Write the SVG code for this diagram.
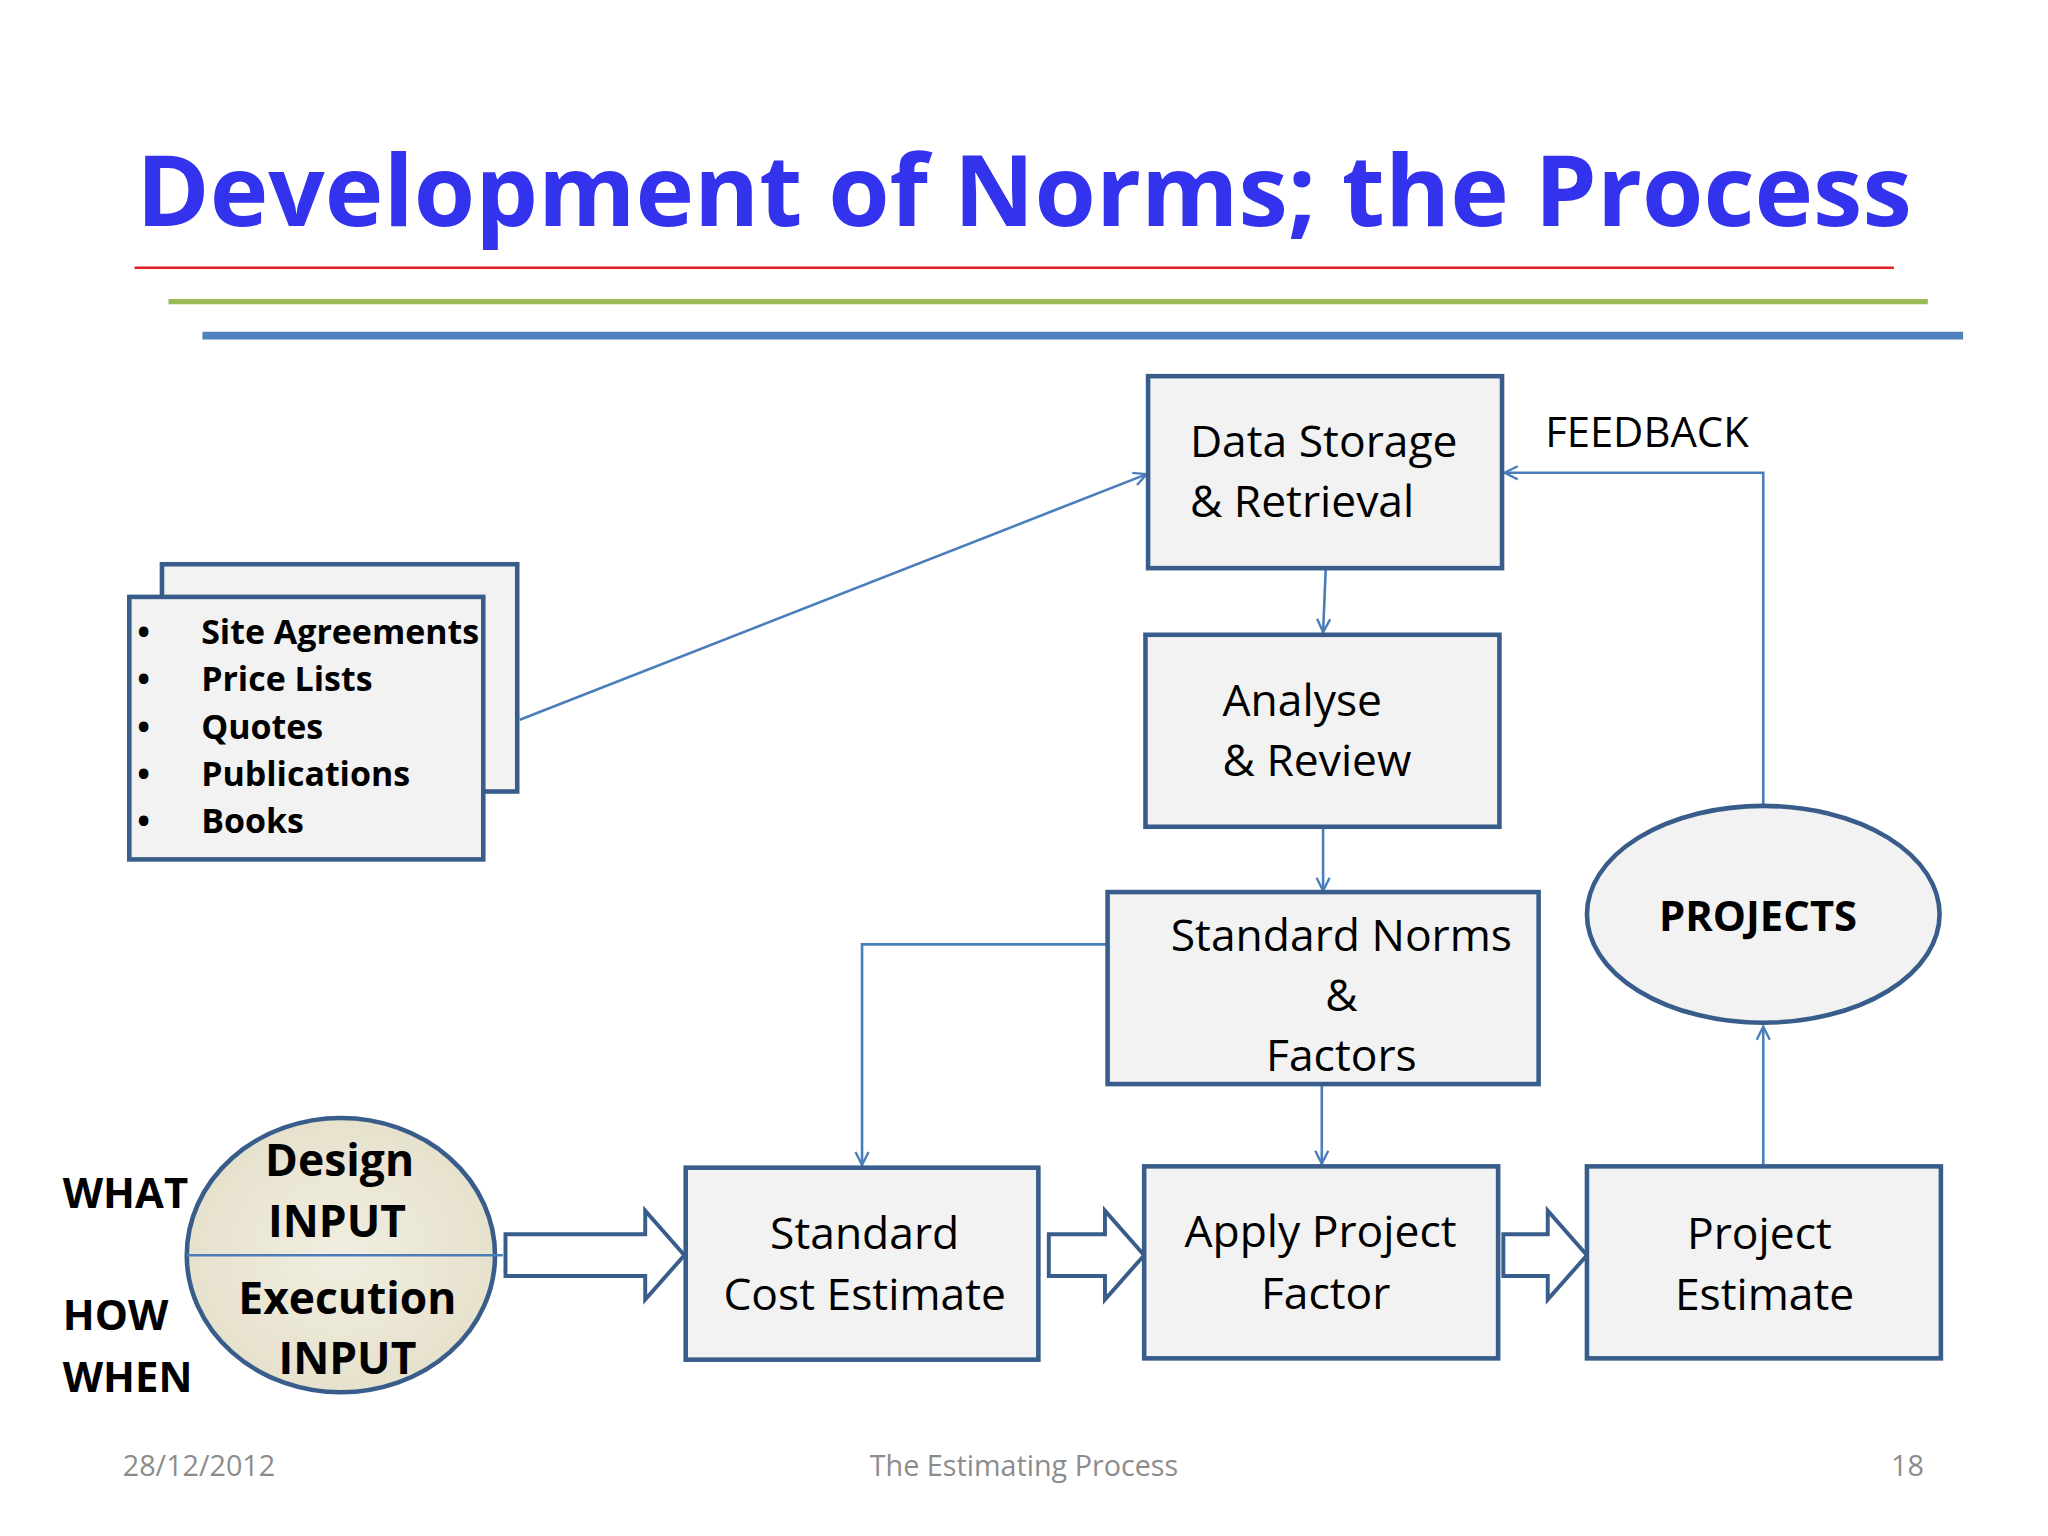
<svg xmlns="http://www.w3.org/2000/svg" width="2048" height="1536" viewBox="0 0 2048 1536">
<style>
.box{fill:#F2F2F2;stroke:#385D8A;stroke-width:3.5}
.t{font-family:"Open Sans","Liberation Sans",sans-serif;fill:#000}
.b{font-family:"Open Sans","Liberation Sans",sans-serif;font-weight:bold;fill:#000}
.c{fill:none;stroke:#4A7EBB;stroke-width:2}
.blk{fill:#fff;stroke:#385D8A;stroke-width:3}
.f{font-family:"Open Sans","Liberation Sans",sans-serif;fill:#8C8C8C;font-size:22px}
</style>
<defs>
<marker id="ar" viewBox="0 0 12 12" refX="11" refY="6" markerWidth="12" markerHeight="12" markerUnits="userSpaceOnUse" orient="auto"><path d="M1,1 L11,6 L1,11" fill="none" stroke="#4A7EBB" stroke-width="1.8"/></marker>
<radialGradient id="g" cx="0.5" cy="0.5" r="0.6"><stop offset="0" stop-color="#F2EEE0"/><stop offset="1" stop-color="#E4DFC9"/></radialGradient>
</defs>
<rect width="2048" height="1536" fill="#fff"/>
<g transform="scale(1.30612)">
<g id="title">
<text x="784" y="173" text-anchor="middle" font-family="'Open Sans','Liberation Sans',sans-serif" font-weight="bold" font-size="76" fill="#3333EE">Development of Norms; the Process</text>
<line x1="103" y1="205" x2="1450" y2="205" stroke="#E02020" stroke-width="2"/>
<line x1="129" y1="231" x2="1476" y2="231" stroke="#9BBB59" stroke-width="4"/>
<line x1="155" y1="257" x2="1503" y2="257" stroke="#4F81BD" stroke-width="6"/>
</g>
<g id="connectors">
<line class="c" x1="398" y1="551" x2="878" y2="363" marker-end="url(#ar)"/>
<line class="c" x1="1015" y1="436" x2="1013" y2="484" marker-end="url(#ar)"/>
<line class="c" x1="1013" y1="634" x2="1013" y2="682" marker-end="url(#ar)"/>
<polyline class="c" points="848,723 660,723 660,892" marker-end="url(#ar)"/>
<line class="c" x1="1012" y1="831" x2="1012" y2="891" marker-end="url(#ar)"/>
<line class="c" x1="1350" y1="892" x2="1350" y2="786" marker-end="url(#ar)"/>
<polyline class="c" points="1350,617 1350,362 1152,362" marker-end="url(#ar)"/>
<path class="blk" d="M387,945 H494 V927 L524,961 L494,995 V977 H387 Z"/>
<path class="blk" d="M803,945 H846 V927 L876,961 L846,995 V977 H803 Z"/>
<path class="blk" d="M1151,945 H1185 V927 L1215,961 L1185,995 V977 H1151 Z"/>
</g>
<g id="data-storage"><rect class="box" x="879" y="288" width="271" height="147"/>
<text class="t" font-size="34" x="911" y="350">Data Storage</text><text class="t" font-size="34" x="911" y="396">&amp; Retrieval</text></g>
<text class="t" font-size="32" x="1183" y="342">FEEDBACK</text>
<g id="analyse"><rect class="box" x="877" y="486" width="271" height="147"/>
<text class="t" font-size="34" x="936" y="548">Analyse</text><text class="t" font-size="34" x="936" y="594">&amp; Review</text></g>
<g id="norms"><rect class="box" x="848" y="683" width="330" height="147"/>
<text class="t" font-size="34" x="1027" y="728" text-anchor="middle">Standard Norms</text>
<text class="t" font-size="34" x="1027" y="774" text-anchor="middle">&amp;</text>
<text class="t" font-size="34" x="1027" y="820" text-anchor="middle">Factors</text></g>
<g id="projects"><ellipse cx="1350" cy="700" rx="135" ry="83" fill="#F2F2F2" stroke="#385D8A" stroke-width="3.5"/>
<text class="b" font-size="32" x="1346" y="713" text-anchor="middle">PROJECTS</text></g>
<g id="sources">
<rect class="box" x="124" y="432" width="272" height="174"/>
<rect class="box" x="99" y="457" width="271" height="201"/>
<g class="b" font-size="26">
<text x="105" y="493">•</text><text x="154" y="493">Site Agreements</text>
<text x="105" y="529">•</text><text x="154" y="529">Price Lists</text>
<text x="105" y="566">•</text><text x="154" y="566">Quotes</text>
<text x="105" y="602">•</text><text x="154" y="602">Publications</text>
<text x="105" y="638">•</text><text x="154" y="638">Books</text>
</g></g>
<g id="input"><ellipse cx="261" cy="961" rx="118" ry="105" fill="url(#g)" stroke="#385D8A" stroke-width="3.5"/>
<line x1="143" y1="961" x2="385" y2="961" stroke="#4A7EBB" stroke-width="2"/>
<g class="b" font-size="34" text-anchor="middle">
<text x="260" y="900">Design</text><text x="258" y="947">INPUT</text>
<text x="266" y="1006">Execution</text><text x="266" y="1052">INPUT</text></g>
<g class="b" font-size="32"><text x="48" y="925">WHAT</text><text x="48" y="1018">HOW</text><text x="48" y="1066">WHEN</text></g></g>
<g id="std-cost"><rect class="box" x="525" y="894" width="270" height="147"/>
<text class="t" font-size="34" x="662" y="956" text-anchor="middle">Standard</text>
<text class="t" font-size="34" x="662" y="1003" text-anchor="middle">Cost Estimate</text></g>
<g id="apply"><rect class="box" x="876" y="893" width="271" height="147"/>
<text class="t" font-size="34" x="1011" y="955" text-anchor="middle">Apply Project</text>
<text class="t" font-size="34" x="1015" y="1002" text-anchor="middle">Factor</text></g>
<g id="proj-est"><rect class="box" x="1215" y="893" width="271" height="147"/>
<text class="t" font-size="34" x="1347" y="956" text-anchor="middle">Project</text>
<text class="t" font-size="34" x="1351" y="1003" text-anchor="middle">Estimate</text></g>
<g id="footer">
<text class="f" x="94" y="1130">28/12/2012</text>
<text class="f" x="784" y="1130" text-anchor="middle">The Estimating Process</text>
<text class="f" x="1473" y="1130" text-anchor="end">18</text></g>
</g>
</svg>
